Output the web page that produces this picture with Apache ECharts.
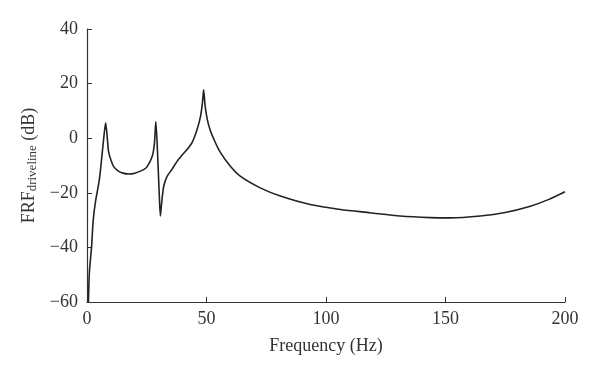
<!DOCTYPE html>
<html>
<head>
<meta charset="utf-8">
<script src="https://cdn.jsdelivr.net/npm/echarts@6/dist/echarts.min.js"></script>
<style>
  html, body { margin: 0; padding: 0; background: #fff; }
  #chart { width: 600px; height: 378px; }
</style>
</head>
<body>
<div id="chart"></div>
<script>
// frequency (Hz) and driveline FRF magnitude (dB)
const freq = [
  0.6, 1.0, 1.9, 2.6, 3.6, 5.2, 6.3, 7.0, 7.8, 8.5, 9.0, 10, 11.1, 13, 15, 17.4,
  20, 23.7, 25.1, 27.3, 28.2, 28.8, 29.5, 30.2, 30.7, 31.2, 32.1, 33.5, 35.5,
  37.7, 40, 41.8, 44, 46, 47.5, 48.3, 48.8, 49.4, 50.3, 51.6, 53.5, 55.8, 60,
  64.1, 72.5, 80.9, 93.4, 106, 118.5, 131, 143.6, 152, 164.5, 175, 185.5, 193, 200
];
const frfDb = [
  -60, -49, -40, -30, -23, -15, -6, 0, 5.6, 0, -4.8, -8, -10.3, -12, -12.8, -13.1,
  -12.8, -11.5, -10.5, -6.6, -2, 6.1, -5, -20, -28.5, -24, -17.6, -14, -11.5,
  -8.5, -6, -4.2, -1.5, 3, 8, 13, 17.7, 12, 7, 2.8, -1.2, -5.2, -10.3,
  -13.9, -18.2, -21.2, -24.3, -26.1, -27.3, -28.5, -29.1, -29.2, -28.5, -27.2, -24.9, -22.5, -19.6
];
const xTicks = [0, 50, 100, 150, 200];
const yTicks = [-60, -40, -20, 0, 20, 40];

const font = "'Liberation Serif', 'DejaVu Serif', serif";
const axisColor = "#333";

const chart = echarts.init(document.getElementById("chart"));
chart.setOption({
  animation: false,
  grid: { left: 87, right: 35, top: 29, bottom: 76 },
  xAxis: {
    type: "value",
    min: xTicks[0],
    max: xTicks[xTicks.length - 1],
    interval: 50,
    name: "Frequency (Hz)",
    nameLocation: "middle",
    nameGap: 35,
    nameTextStyle: { fontFamily: font, fontSize: 18, color: "#333" },
    axisLine: { onZero: false, lineStyle: { color: axisColor, width: 1.2 } },
    axisTick: { inside: true, length: 5, lineStyle: { color: axisColor } },
    axisLabel: { fontFamily: font, fontSize: 18, color: "#333", margin: 8 },
    splitLine: { show: false }
  },
  yAxis: {
    type: "value",
    min: yTicks[0],
    max: yTicks[yTicks.length - 1],
    interval: 20,
    name: "{m|FRF}{s|driveline}{m| (dB)}",
    nameLocation: "middle",
    nameGap: 47,
    nameRotate: 90,
    nameTextStyle: {
      rich: {
        m: { fontFamily: font, fontSize: 18, color: "#333" },
        s: { fontFamily: font, fontSize: 13, color: "#333", verticalAlign: "bottom", padding: [7, 0, 0, 0] }
      }
    },
    axisLine: { show: true, onZero: false, lineStyle: { color: axisColor, width: 1.2 } },
    axisTick: { show: true, inside: true, length: 5, lineStyle: { color: axisColor } },
    axisLabel: {
      fontFamily: font, fontSize: 18, color: "#333", margin: 9,
      formatter: v => String(v).replace("-", "\u2212")
    },
    splitLine: { show: false }
  },
  series: [{
    type: "line",
    data: freq.map((f, i) => [f, frfDb[i]]),
    showSymbol: false,
    smooth: 0.25,
    clip: true,
    lineStyle: { color: "#222", width: 1.6 }
  }]
});
</script>
</body>
</html>
